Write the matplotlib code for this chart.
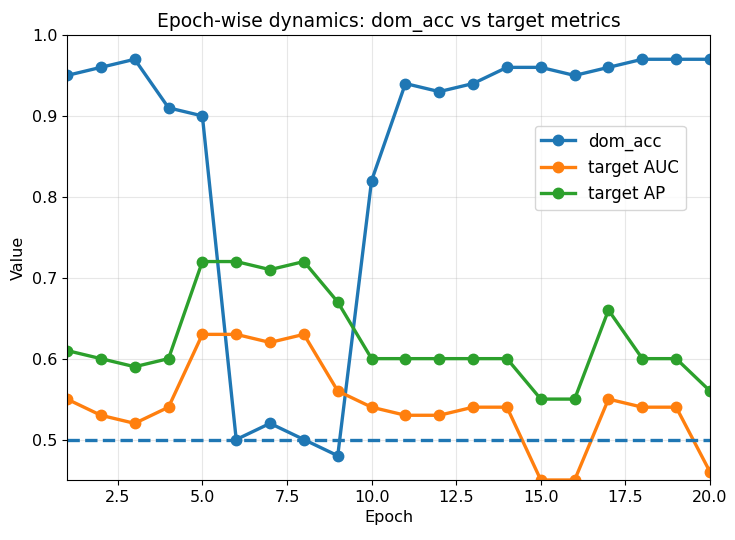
import matplotlib
matplotlib.use("Agg")
import matplotlib.pyplot as plt

epochs = list(range(1, 21))
dom_acc = [0.95, 0.96, 0.97, 0.91, 0.90, 0.50, 0.52, 0.50, 0.48, 0.82,
           0.94, 0.93, 0.94, 0.96, 0.96, 0.95, 0.96, 0.97, 0.97, 0.97]
target_auc = [0.55, 0.53, 0.52, 0.54, 0.63, 0.63, 0.62, 0.63, 0.56, 0.54,
              0.53, 0.53, 0.54, 0.54, 0.45, 0.45, 0.55, 0.54, 0.54, 0.46]
target_ap = [0.61, 0.60, 0.59, 0.60, 0.72, 0.72, 0.71, 0.72, 0.67, 0.60,
             0.60, 0.60, 0.60, 0.60, 0.55, 0.55, 0.66, 0.60, 0.60, 0.56]
chance = 0.5

plt.rcParams['font.size'] = 11.5

fig = plt.figure(figsize=(7.35, 5.4), dpi=100)
ax = fig.add_axes([67/735, 60/540, 643/735, 445/540])

ax.plot(epochs, dom_acc, marker='o', lw=2.4, ms=7.5, label='dom_acc')
ax.plot(epochs, target_auc, marker='o', lw=2.4, ms=7.5, label='target AUC')
ax.plot(epochs, target_ap, marker='o', lw=2.4, ms=7.5, label='target AP')
ax.axhline(chance, color='C0', ls='--', lw=2.4)

ax.set_xlim(1, 20)
ax.set_ylim(0.45, 1.0)
ax.grid(True, alpha=0.3)
ax.set_xlabel('Epoch')
ax.set_ylabel('Value')
ax.set_title('Epoch-wise dynamics: dom_acc vs target metrics', fontsize=13.5)
ax.legend(loc='upper right', bbox_to_anchor=(0.975, 0.815), fontsize=12)

fig.savefig('out.png')
